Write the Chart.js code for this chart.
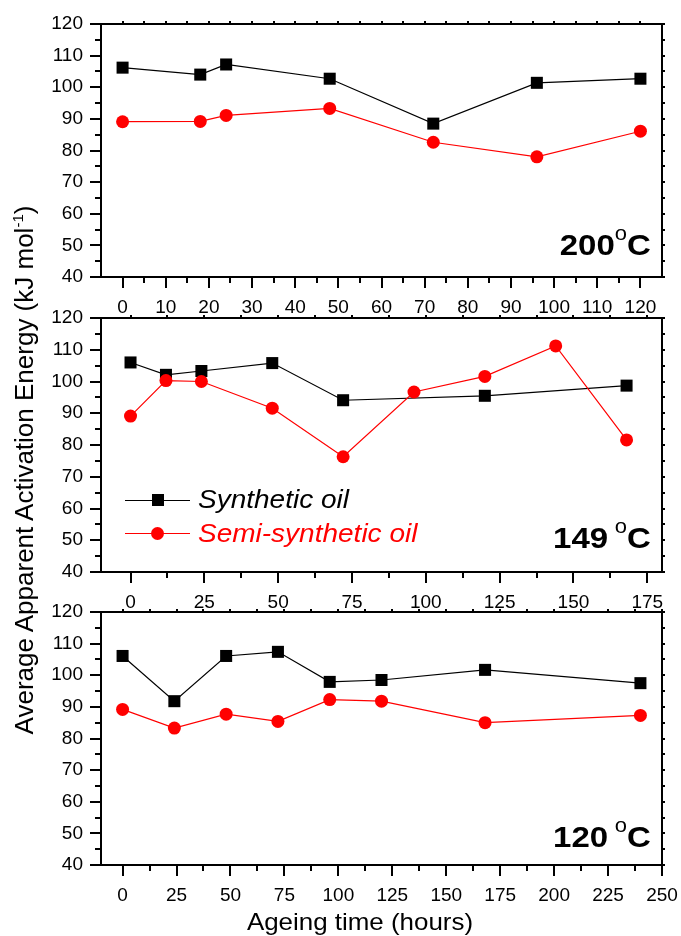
<!DOCTYPE html>
<html>
<head>
<meta charset="utf-8">
<script src="https://cdn.jsdelivr.net/npm/chart.js@4.4.0/dist/chart.umd.min.js"></script>
<style>
  body { margin: 0; background: #fff; }
  #fig { position: relative; width: 681px; height: 936px; overflow: hidden;
         font-family: "Liberation Sans", Arial, sans-serif; color: #000; }
  #fig canvas { position: absolute; left: 0; }
  .txt { position: absolute; white-space: nowrap; }
  .temp { right: 30px; font-size: 30px; font-weight: bold; line-height: 30px;
          transform: scaleX(1.1); transform-origin: right center; }
  .temp sup { font-size: 20px; font-weight: normal; position: relative; top: -15px; vertical-align: baseline; }
  .temp sup.gap { margin-left: 6px; }
  .ytitle { left: -254px; top: 456px; width: 560px; text-align: center; font-size: 26px; line-height: 24px;
            transform: rotate(-90deg); }
  .ytitle sup { font-size: 15px; position: relative; top: -10px; vertical-align: baseline; }
  .xtitle { left: 160px; width: 400px; text-align: center; top: 910px; font-size: 24px; line-height: 24px;
            transform: scaleX(1.08); }
  .leg { left: 198px; font-size: 25px; font-style: italic; line-height: 24px;
         transform: scaleX(1.12); transform-origin: left center; }
  .legline { position: absolute; left: 125px; width: 65px; height: 1px; }
  .legmark { position: absolute; }
</style>
</head>
<body>
<div id="fig">
  <canvas id="c200" width="681" height="320" style="top:0px"></canvas>
  <canvas id="c149" width="681" height="310" style="top:300px"></canvas>
  <canvas id="c120" width="681" height="340" style="top:596px"></canvas>

  <div class="txt ytitle">Average Apparent Activation Energy (kJ mol<sup>-1</sup>)</div>
  <div class="txt xtitle">Ageing time (hours)</div>

  <div class="txt temp" style="top:230px">200<sup>o</sup>C</div>
  <div class="txt temp" style="top:523px">149<sup class="gap">o</sup>C</div>
  <div class="txt temp" style="top:822px">120<sup class="gap">o</sup>C</div>

  <div class="legline" style="top:500px; background:#000"></div>
  <div class="legmark" style="left:152px; top:494px; width:12px; height:12px; background:#000"></div>
  <div class="txt leg" style="top:487px">Synthetic oil</div>
  <div class="legline" style="top:533px; background:#f00"></div>
  <div class="legmark" style="left:151px; top:527px; width:13px; height:13px; border-radius:50%; background:#f00"></div>
  <div class="txt leg" style="top:521px; color:#f00">Semi-synthetic oil</div>
</div>

<script>
// ageing at 200 C
const hours200 = [0, 18, 24, 48, 72, 96, 120];
const synthetic200 = [106.2, 104.0, 107.2, 102.7, 88.5, 101.4, 102.7];
const semiSynthetic200 = [89.1, 89.2, 91.1, 93.3, 82.6, 78.0, 86.1];

// ageing at 149 C (synthetic oil was not measured at 96 h and 144 h)
const hoursSynthetic149 = [0, 12, 24, 48, 72, 120, 168];
const synthetic149 = [106.0, 102.1, 103.3, 105.8, 94.1, 95.5, 98.7];
const hoursSemiSynthetic149 = [0, 12, 24, 48, 72, 96, 120, 144, 168];
const semiSynthetic149 = [89.1, 100.3, 100.0, 91.6, 76.3, 96.7, 101.6, 111.2, 81.6];

// ageing at 120 C
const hours120 = [0, 24, 48, 72, 96, 120, 168, 240];
const synthetic120 = [106.1, 91.8, 106.1, 107.4, 97.9, 98.5, 101.7, 97.5];
const semiSynthetic120 = [89.2, 83.3, 87.7, 85.4, 92.3, 91.8, 85.0, 87.3];

// axis ticks
const yTicks = [40, 50, 60, 70, 80, 90, 100, 110, 120];
const xTicks200 = [0, 10, 20, 30, 40, 50, 60, 70, 80, 90, 100, 110, 120];
const xTicks149 = [0, 25, 50, 75, 100, 125, 150, 175];
const xTicks120 = [0, 25, 50, 75, 100, 125, 150, 175, 200, 225, 250];

Chart.defaults.font.family = '"Liberation Sans", Arial, sans-serif';
Chart.defaults.color = '#000';

const pts = (xs, ys) => xs.map((x, i) => ({ x: x, y: ys[i] }));

// box around the plot with major/minor ticks on all four sides
function makeFrame(xTicks) {
  return {
    id: 'frame',
    afterDraw(chart) {
      const ctx = chart.ctx;
      const a = chart.chartArea;
      const xs = chart.scales.x, ys = chart.scales.y;
      ctx.save();
      ctx.strokeStyle = '#000';
      ctx.lineWidth = 2;
      ctx.beginPath();
      // y ticks: outward on the left, short stubs on the right
      const yStep = yTicks[1] - yTicks[0];
      for (let i = 0; i <= (yTicks.length - 1) * 2; i++) {
        const py = Math.round(ys.getPixelForValue(yTicks[0] + i * yStep / 2));
        ctx.moveTo(a.left - (i % 2 ? 6 : 11), py); ctx.lineTo(a.left, py);
        ctx.moveTo(a.right, py); ctx.lineTo(a.right + 3, py);
      }
      // x ticks: outward below, short stubs on top
      const xStep = xTicks[1] - xTicks[0];
      for (let i = 0; i <= (xTicks.length - 1) * 2; i++) {
        const v = xTicks[0] + i * xStep / 2;
        if (v > xs.max) break;
        const px = Math.round(xs.getPixelForValue(v));
        ctx.moveTo(px, a.bottom); ctx.lineTo(px, a.bottom + (i % 2 ? 6 : 11));
        ctx.moveTo(px, a.top - 3); ctx.lineTo(px, a.top);
      }
      ctx.stroke();
      ctx.strokeRect(a.left, a.top, a.right - a.left, a.bottom - a.top);
      ctx.restore();
    }
  };
}

function makePanel(id, opt) {
  return new Chart(document.getElementById(id), {
    type: 'scatter',
    data: {
      datasets: [
        {
          label: 'Synthetic oil',
          data: pts(opt.hoursA, opt.synthetic),
          showLine: true,
          borderColor: '#000',
          backgroundColor: '#000',
          borderWidth: 1.2,
          pointStyle: 'rect',
          pointRadius: 8.5,
          pointBorderWidth: 0,
          order: 1
        },
        {
          label: 'Semi-synthetic oil',
          data: pts(opt.hoursB, opt.semi),
          showLine: true,
          borderColor: '#f00',
          backgroundColor: '#f00',
          borderWidth: 1.2,
          pointStyle: 'circle',
          pointRadius: 6.5,
          pointBorderWidth: 0,
          order: 0
        }
      ]
    },
    options: {
      responsive: false,
      animation: false,
      events: [],
      layout: { padding: { top: opt.top, right: 19, left: 0, bottom: 0 } },
      plugins: {
        legend: { display: false },
        tooltip: { enabled: false }
      },
      scales: {
        x: {
          type: 'linear',
          min: opt.xMin,
          max: opt.xMax,
          grid: { display: false, drawTicks: false },
          border: { display: false },
          afterBuildTicks: s => { s.ticks = opt.xTicks.map(v => ({ value: v })); },
          afterFit: s => { s.height = opt.axisHeight; s.paddingLeft = 0; s.paddingRight = 0; },
          ticks: { font: { size: 19 }, padding: 19, maxRotation: 0, autoSkip: false }
        },
        y: {
          min: 40,
          max: 120,
          grid: { display: false, drawTicks: false },
          border: { display: false },
          afterBuildTicks: s => { s.ticks = yTicks.map(v => ({ value: v })); },
          afterFit: s => { s.width = 101; s.paddingTop = 0; s.paddingBottom = 0; },
          ticks: { font: { size: 19 }, padding: 18, autoSkip: false }
        }
      }
    },
    plugins: [makeFrame(opt.xTicks)]
  });
}

makePanel('c200', {
  hoursA: hours200, synthetic: synthetic200,
  hoursB: hours200, semi: semiSynthetic200,
  xMin: -5, xMax: 125, xTicks: xTicks200, top: 24, axisHeight: 43
});
makePanel('c149', {
  hoursA: hoursSynthetic149, synthetic: synthetic149,
  hoursB: hoursSemiSynthetic149, semi: semiSynthetic149,
  xMin: -10, xMax: 180, xTicks: xTicks149, top: 18, axisHeight: 38
});
makePanel('c120', {
  hoursA: hours120, synthetic: synthetic120,
  hoursB: hours120, semi: semiSynthetic120,
  xMin: -10, xMax: 250, xTicks: xTicks120, top: 16, axisHeight: 71
});
</script>
</body>
</html>
